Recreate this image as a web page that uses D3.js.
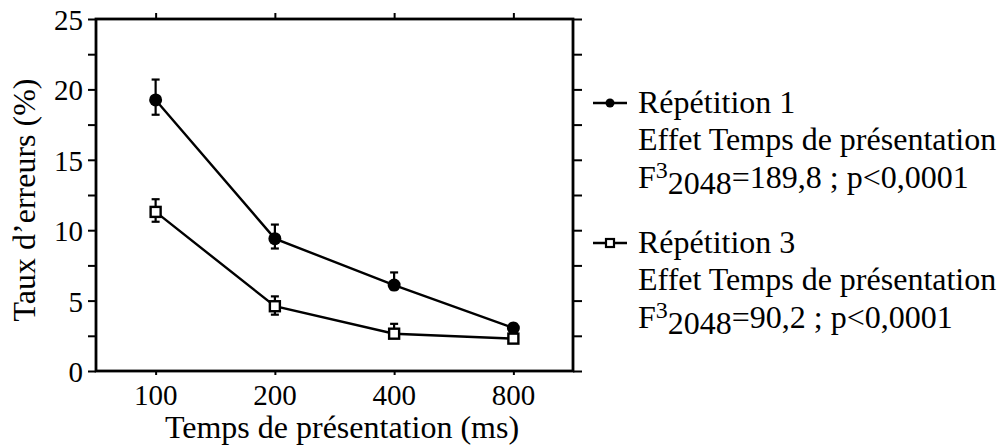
<!DOCTYPE html>
<html>
<head>
<meta charset="utf-8">
<script src="https://cdn.jsdelivr.net/npm/d3@7"></script>
<style>
  body { margin: 0; background: #fff; }
  text { font-family: 'Times New Roman', Times, 'Liberation Serif', serif; fill: #000; }
</style>
</head>
<body>
<svg id="chart" width="1002" height="445"></svg>
<script>
// data
const durations = ['100', '200', '400', '800']
const rep1 = [19.25, 9.4, 6.1, 3.05]
const rep1ErrUp = [1.45, 1.0, 0.9, 0.3]
const rep1ErrDown = [1.05, 0.7, 0.3, 0.3]
const rep3 = [11.3, 4.6, 2.65, 2.3]
const rep3ErrUp = [0.9, 0.7, 0.7, 0.2]
const rep3ErrDown = [0.7, 0.6, 0.2, 0.2]
const yTicks = [0, 5, 10, 15, 20, 25]
const yMinorTicks = [0, 2.5, 5, 7.5, 10, 12.5, 15, 17.5, 20, 22.5, 25]
const legend1 = ['Répétition 1', 'Effet Temps de présentation', '=189,8 ; p<0,0001']
const legend3 = ['Répétition 3', 'Effet Temps de présentation', '=90,2 ; p<0,0001']

const plotLeft = 96
const plotRight = 573
const plotTop = 19
const plotBottom = 371

let svg = d3.select('#chart')

let x = d3.scalePoint().domain(durations).range([plotLeft, plotRight]).padding(0.5)
let y = d3.scaleLinear().domain([0, 25]).range([plotBottom, plotTop])

// frame axes
svg.append('g')
  .attr('transform', 'translate(' + plotLeft + ',0)')
  .call(d3.axisLeft(y).tickValues(yMinorTicks).tickSize(8).tickFormat(''))
svg.append('g')
  .attr('transform', 'translate(' + plotRight + ',0)')
  .call(d3.axisRight(y).tickValues(yMinorTicks).tickSize(9).tickFormat(''))
svg.append('g')
  .attr('transform', 'translate(0,' + plotTop + ')')
  .call(d3.axisTop(x).tickSize(6).tickFormat(''))
svg.append('g')
  .attr('transform', 'translate(0,' + plotBottom + ')')
  .call(d3.axisBottom(x).tickSize(4).tickFormat(''))
svg.selectAll('.domain').remove()
svg.selectAll('.tick line').attr('stroke', '#000').attr('stroke-width', 2)

svg.append('rect')
  .attr('x', plotLeft).attr('y', plotTop)
  .attr('width', plotRight - plotLeft).attr('height', plotBottom - plotTop)
  .attr('fill', 'none').attr('stroke', '#000').attr('stroke-width', 2.8)

// tick labels
svg.selectAll('.ylab')
  .data(yTicks)
  .enter().append('text')
  .attr('x', 83)
  .attr('y', function (d) { return y(d) + 11 })
  .attr('text-anchor', 'end')
  .style('font-size', '29px')
  .text(function (d) { return d })

svg.selectAll('.xlab')
  .data(durations)
  .enter().append('text')
  .attr('x', function (d) { return x(d) })
  .attr('y', 405)
  .attr('text-anchor', 'middle')
  .style('font-size', '29px')
  .text(function (d) { return d })

svg.append('text')
  .attr('x', 342).attr('y', 438)
  .attr('text-anchor', 'middle')
  .style('font-size', '32px')
  .text('Temps de présentation (ms)')

svg.append('text')
  .attr('transform', 'translate(35,200) rotate(-90)')
  .attr('text-anchor', 'middle')
  .style('font-size', '32px')
  .text('Taux d\u2019erreurs (%)')

function series (values, errUp, errDown, marker) {
  let pts = durations.map(function (d, i) {
    return { k: d, v: values[i], up: errUp[i], down: errDown[i] }
  })
  let g = svg.append('g')
  g.append('path')
    .datum(pts)
    .attr('fill', 'none').attr('stroke', '#000').attr('stroke-width', 2.4)
    .attr('d', d3.line().x(function (d) { return x(d.k) }).y(function (d) { return y(d.v) }))
  let eb = g.selectAll('.err').data(pts).enter().append('g')
    .attr('stroke', '#000').attr('stroke-width', 2.2)
  eb.append('line')
    .attr('x1', function (d) { return x(d.k) }).attr('x2', function (d) { return x(d.k) })
    .attr('y1', function (d) { return y(d.v + d.up) }).attr('y2', function (d) { return y(d.v - d.down) })
  eb.append('line')
    .attr('x1', function (d) { return x(d.k) - 4 }).attr('x2', function (d) { return x(d.k) + 4 })
    .attr('y1', function (d) { return y(d.v + d.up) }).attr('y2', function (d) { return y(d.v + d.up) })
  eb.append('line')
    .attr('x1', function (d) { return x(d.k) - 4 }).attr('x2', function (d) { return x(d.k) + 4 })
    .attr('y1', function (d) { return y(d.v - d.down) }).attr('y2', function (d) { return y(d.v - d.down) })
  if (marker === 'circle') {
    g.selectAll('.pt').data(pts).enter().append('circle')
      .attr('cx', function (d) { return x(d.k) })
      .attr('cy', function (d) { return y(d.v) })
      .attr('r', 6.5).attr('fill', '#000')
  } else {
    g.selectAll('.pt').data(pts).enter().append('rect')
      .attr('x', function (d) { return x(d.k) - 5 })
      .attr('y', function (d) { return y(d.v) - 5 })
      .attr('width', 10).attr('height', 10)
      .attr('fill', '#fff').attr('stroke', '#000').attr('stroke-width', 2.4)
  }
}

series(rep1, rep1ErrUp, rep1ErrDown, 'circle')
series(rep3, rep3ErrUp, rep3ErrDown, 'square')

function legendBlock (lines, y0, marker) {
  let g = svg.append('g')
  g.append('line')
    .attr('x1', 593).attr('x2', 627).attr('y1', y0).attr('y2', y0)
    .attr('stroke', '#000').attr('stroke-width', 2.4)
  if (marker === 'circle') {
    g.append('circle').attr('cx', 610).attr('cy', y0).attr('r', 4.5).attr('fill', '#000')
  } else {
    g.append('rect').attr('x', 606).attr('y', y0 - 4).attr('width', 8).attr('height', 8)
      .attr('fill', '#fff').attr('stroke', '#000').attr('stroke-width', 2.2)
  }
  g.append('text').attr('x', 638).attr('y', y0 + 10)
    .style('font-size', '32px').text(lines[0])
  g.append('text').attr('x', 638).attr('y', y0 + 47)
    .style('font-size', '32px').text(lines[1])
  let t = g.append('text').attr('x', 638).attr('y', y0 + 85)
    .style('font-size', '32px')
  t.append('tspan').text('F')
  t.append('tspan').attr('dy', -10).style('font-size', '24px').text('3')
  t.append('tspan').attr('dy', 16).text('2048')
  t.append('tspan').attr('dy', -6).text(lines[2])
}

legendBlock(legend1, 103, 'circle')
legendBlock(legend3, 243, 'square')
</script>
</body>
</html>
